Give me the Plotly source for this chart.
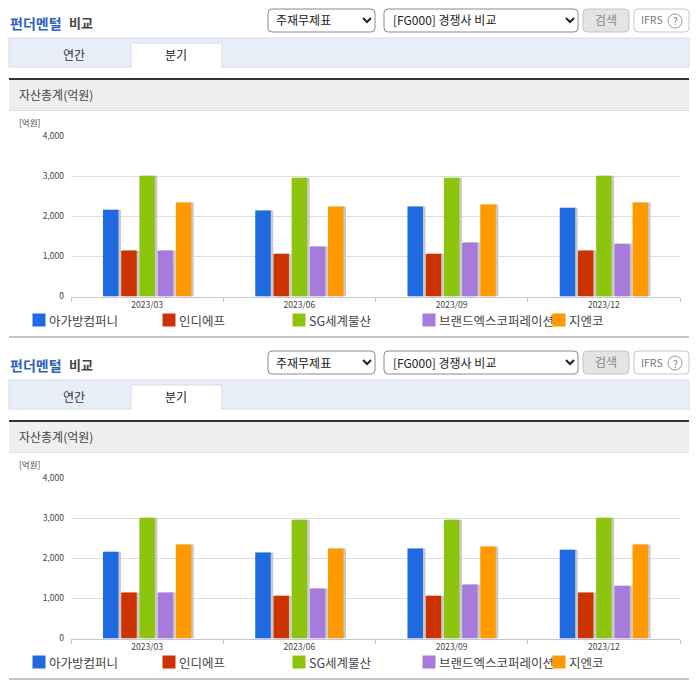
import plotly.graph_objects as go

W = 696
H = 684
FONT = "Noto Sans CJK KR"

periods = ["2023/03", "2023/06", "2023/09", "2023/12"]
companies = ["아가방컴퍼니", "인디에프", "SG세계물산", "브랜드엑스코퍼레이션", "지엔코"]
colors = ["#1f6ae0", "#cc3300", "#8cc40e", "#a77bdc", "#ff9900"]
agabang = [2170, 2150, 2250, 2220]
indief = [1150, 1070, 1070, 1150]
sg_global = [3020, 2970, 2970, 3020]
brand_x = [1150, 1250, 1350, 1320]
gnco = [2350, 2250, 2300, 2350]
series = [agabang, indief, sg_global, brand_x, gnco]
y_ticks = [0, 1000, 2000, 3000, 4000]
legend_x = [32, 162, 292, 422, 552]


def px(x):
    return x / W


def py(y):
    return 1 - y / H


def rect(x0, y0, x1, y1, fill="rgba(0,0,0,0)", line=None, lw=1):
    return dict(type="rect", xref="paper", yref="paper", x0=px(x0), x1=px(x1), y0=py(y0), y1=py(y1),
                fillcolor=fill, line=dict(color=line, width=lw if line else 0), layer="below")


def round_rect(x0, y0, x1, y1, fill, line, r=4):
    a, b, c, d = px(x0), px(x1), py(y0), py(y1)
    rx, ry = r / W, r / H
    path = (f"M {a+rx} {c} L {b-rx} {c} Q {b} {c} {b} {c-ry} L {b} {d+ry} Q {b} {d} {b-rx} {d} "
            f"L {a+rx} {d} Q {a} {d} {a} {d+ry} L {a} {c-ry} Q {a} {c} {a+rx} {c} Z")
    return dict(type="path", xref="paper", yref="paper", path=path, fillcolor=fill,
                line=dict(color=line, width=1), layer="below")


def chevron(x, y):
    path = f"M {px(x-4)} {py(y-2)} L {px(x)} {py(y+2)} L {px(x+4)} {py(y-2)}"
    return dict(type="path", xref="paper", yref="paper", path=path,
                line=dict(color="#222222", width=2), layer="above")


def label(x, y, text, size=12, color="#333333", anchor="left"):
    # annotations carry about 2px of padding on the left
    shift = -2 if anchor == "left" else 0
    return dict(xref="paper", yref="paper", x=px(x + shift), y=py(y), text=text, showarrow=False,
                xanchor=anchor, yanchor="middle", font=dict(family=FONT, size=size, color=color))


fig = go.Figure()
shapes = []
annotations = []

# two identical panels, the second one sits 342px lower
for n, dy in enumerate([0, 342]):
    suffix = "" if n == 0 else "2"

    shapes += [
        round_rect(268, 9 + dy, 375, 32 + dy, "#ffffff", "#8a8a8a"),
        round_rect(384, 9 + dy, 578, 32 + dy, "#ffffff", "#8a8a8a"),
        round_rect(583, 9 + dy, 629, 32 + dy, "#e4e4e4", "#c4c4c4"),
        round_rect(634, 9 + dy, 689, 32 + dy, "#ffffff", "#c8c8c8"),
        chevron(367, 20 + dy),
        chevron(570, 20 + dy),
        dict(type="circle", xref="paper", yref="paper", x0=px(668), x1=px(682), y0=py(14 + dy), y1=py(28 + dy),
             line=dict(color="#999999", width=1), fillcolor="#ffffff", layer="below"),
        rect(9, 38 + dy, 689, 67 + dy, "#e8eef8", "#d5dde8"),
        rect(131, 43 + dy, 222, 67 + dy, "#ffffff", "#d5dde8"),
        rect(132, 66 + dy, 221, 68 + dy, "#ffffff"),
        rect(9, 78 + dy, 689, 80 + dy, "#333333"),
        rect(9, 80 + dy, 689, 110 + dy, "#efefef"),
        rect(9, 110 + dy, 689, 111 + dy, "#dddddd"),
        rect(9, 336 + dy, 689, 338 + dy, "#c4c4c4"),
    ]
    annotations += [
        label(10, 23 + dy, "<b>펀더멘털</b>", 14, "#2f62bd"),
        label(69, 23 + dy, "<b>비교</b>", 13, "#444444"),
        label(276, 20 + dy, "주재무제표", 12, "#222222"),
        label(393, 20 + dy, "[FG000] 경쟁사 비교", 12, "#222222"),
        label(606, 19 + dy, "검색", 12, "#8a8a8a", "center"),
        label(641, 20 + dy, "IFRS", 10.5, "#777777"),
        label(675, 21 + dy, "?", 10, "#777777", "center"),
        label(74, 54 + dy, "연간", 12, "#333333", "center"),
        label(176, 55 + dy, "분기", 12, "#222222", "center"),
        label(19, 95 + dy, "자산총계(억원)", 12, "#444444"),
        label(19, 122 + dy, "[억원]", 8.5, "#444444"),
    ]

    for i, name in enumerate(companies):
        annotations.append(label(legend_x[i] + 17, 320 + dy, name, 12.5, "#444444"))
    # swatches come after the names: the orange one covers the end of the long name
    for i, name in enumerate(companies):
        annotations.append(dict(xref="paper", yref="paper", x=px(legend_x[i]), y=py(320 + dy), text=" ",
                                showarrow=False, xanchor="left", yanchor="middle", width=12, height=12,
                                bgcolor=colors[i], borderpad=0, font=dict(size=8)))

    pitch = 18.2 / 152.25
    bar_w = 15.5 / 152.25
    for i, name in enumerate(companies):
        base_offset = (i - 2) * pitch - bar_w / 2
        # grey shadow to the right of each bar
        fig.add_trace(go.Bar(x=periods, y=series[i], width=bar_w, offset=base_offset + 2.5 / 152.25,
                             marker=dict(color="#c8c8c8", line_width=0), xaxis="x" + suffix, yaxis="y" + suffix,
                             showlegend=False, hoverinfo="skip"))
        fig.add_trace(go.Bar(x=periods, y=series[i], width=bar_w, offset=base_offset, name=name,
                             marker=dict(color=colors[i], line_width=0), xaxis="x" + suffix, yaxis="y" + suffix,
                             showlegend=False))

x_style = dict(type="category", categoryorder="array", categoryarray=periods, tickson="boundaries", ticks="outside",
               ticklen=4, tickcolor="#c0c8d4", showline=True, linecolor="#c0c8d4", linewidth=1, showgrid=False,
               tickfont=dict(family=FONT, size=8.5, color="#444444"), range=[-0.5, 3.5],
               domain=[px(71), px(680)])
y_style = dict(range=[0, 4000], tickvals=y_ticks, tickformat=",", showgrid=True, gridcolor="#dddddd", gridwidth=1,
               zeroline=False, ticks="", ticklabelstandoff=6, tickfont=dict(family=FONT, size=8.5, color="#444444"))

fig.update_layout(
    width=W,
    height=H,
    margin=dict(l=0, r=0, t=0, b=0, autoexpand=False),
    paper_bgcolor="#ffffff",
    plot_bgcolor="rgba(0,0,0,0)",
    barmode="overlay",
    showlegend=False,
    shapes=shapes,
    annotations=annotations,
    xaxis=dict(x_style, anchor="y"),
    yaxis=dict(y_style, anchor="x", domain=[py(296.5), py(136.5)]),
    xaxis2=dict(x_style, anchor="y2"),
    yaxis2=dict(y_style, anchor="x2", domain=[py(638.5), py(478.5)]),
)

fig.write_html("out.html", config=dict(displayModeBar=False),
               post_script="document.body.style.margin='0';document.body.style.overflow='hidden';")
